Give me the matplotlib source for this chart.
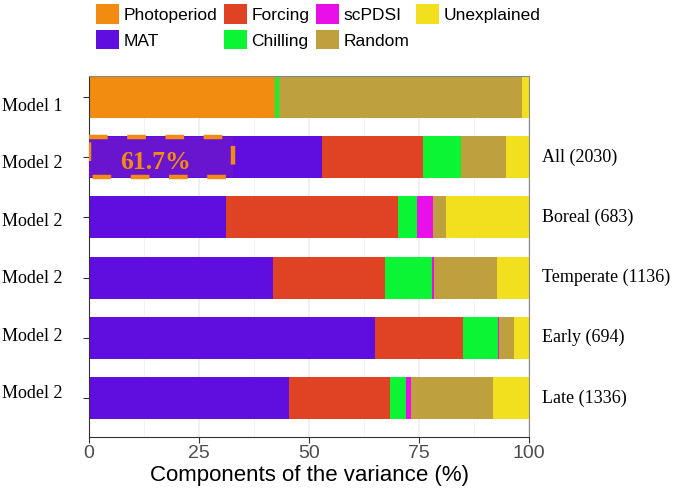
import matplotlib.pyplot as plt
from matplotlib.patches import Rectangle, Patch
from matplotlib.ticker import MultipleLocator
import numpy as np

plt.rcParams["font.family"] = ["Liberation Sans", "DejaVu Sans"]

# rows, top to bottom
models = ["Model 1", "Model 2", "Model 2", "Model 2", "Model 2", "Model 2"]
subsets = ["", "All (2030)", "Boreal (683)", "Temperate (1136)", "Early (694)", "Late (1336)"]

# variance components (%), stacking order left -> right
photoperiod = [42.3, 0, 0, 0, 0, 0]
mat = [0, 53.0, 31.2, 41.7, 65.1, 45.5]
forcing = [0, 22.9, 38.9, 25.6, 19.8, 22.9]
chilling = [0.9, 8.6, 4.5, 10.6, 8.1, 3.6]
scpdsi = [0, 0.1, 3.6, 0.6, 0.2, 1.2]
random_eff = [55.1, 10.2, 2.9, 14.2, 3.4, 18.5]
unexplained = [1.7, 5.2, 18.9, 7.3, 3.4, 8.3]

mat_share_all = 61.7  # highlighted share of MAT in "All"

components = [
    ("Photoperiod", photoperiod, "#F28C10"),
    ("MAT", mat, "#600DE0"),
    ("Forcing", forcing, "#E04324"),
    ("Chilling", chilling, "#0CF535"),
    ("scPDSI", scpdsi, "#E80FE8"),
    ("Random", random_eff, "#BFA03F"),
    ("Unexplained", unexplained, "#F2E01F"),
]

fig = plt.figure(figsize=(6.77, 4.9), dpi=100)
ax = fig.add_axes([0.1315, 0.108, 0.65, 0.737])

y = np.arange(len(models))
left = np.zeros(len(models))
handles = []
for name, vals, col in components:
    vals = np.array(vals, dtype=float)
    ax.barh(y, vals, left=left, height=0.7, color=col, zorder=2)
    left += vals
    handles.append(Patch(facecolor=col, edgecolor="none", label=name))

# dashed highlight box on MAT (All)
w = mat[1] * mat_share_all / 100
ax.add_patch(Rectangle((0, 1 - 0.33), w, 0.66, facecolor="#6914CF",
                       edgecolor="#F28C10", linewidth=3.2,
                       linestyle=(0, (4.2, 4.4)), zorder=3))
ax.text(w * 0.46, 1.08, f"{mat_share_all}%", color="#F28C10", fontsize=18.5,
        fontweight="bold", family="Liberation Serif",
        ha="center", va="center", zorder=4)

ax.set_xlim(0, 100)
ax.set_ylim(len(models) - 0.35, -0.35)
ax.xaxis.set_major_locator(MultipleLocator(25))
ax.xaxis.set_minor_locator(MultipleLocator(12.5))
ax.grid(True, which="major", color="#EBEBEB", linewidth=1.1, zorder=0)
ax.grid(True, which="minor", axis="x", color="#F2F2F2", linewidth=0.6, zorder=0)
ax.set_axisbelow(True)

ax.set_yticks(y)
ax.set_yticklabels([])
ax.tick_params(axis="x", which="major", labelsize=14, labelcolor="#4D4D4D",
               color="#333333", length=4, pad=2)
ax.tick_params(axis="x", which="minor", length=0)
ax.tick_params(axis="y", color="#333333", length=4)

# row labels sit a little off the ticks, as in the original
label_y = 0.155 + 0.955 * y
for yi, lab in zip(label_y, models):
    ax.text(-0.06, yi, lab, transform=ax.get_yaxis_transform(),
            family="Liberation Serif", fontsize=13, ha="right", va="center")

for s in ["top", "right"]:
    ax.spines[s].set_color("#888888")
for s in ["left", "bottom"]:
    ax.spines[s].set_color("#333333")

for yi, lab in zip(y, subsets):
    ax.text(1.03, yi, lab, transform=ax.get_yaxis_transform(),
            family="Liberation Serif", fontsize=13, ha="left", va="center")

ax.set_xlabel("Components of the variance (%)", fontsize=16, labelpad=2)

fig.legend(handles=handles, ncol=4, loc="upper center",
           bbox_to_anchor=(0.47, 1.005), frameon=False, fontsize=12.5,
           handlelength=1.32, handleheight=1.32, handletextpad=0.25,
           columnspacing=0.4, labelspacing=0.38, borderaxespad=0)

fig.savefig("out.png", dpi=100)
